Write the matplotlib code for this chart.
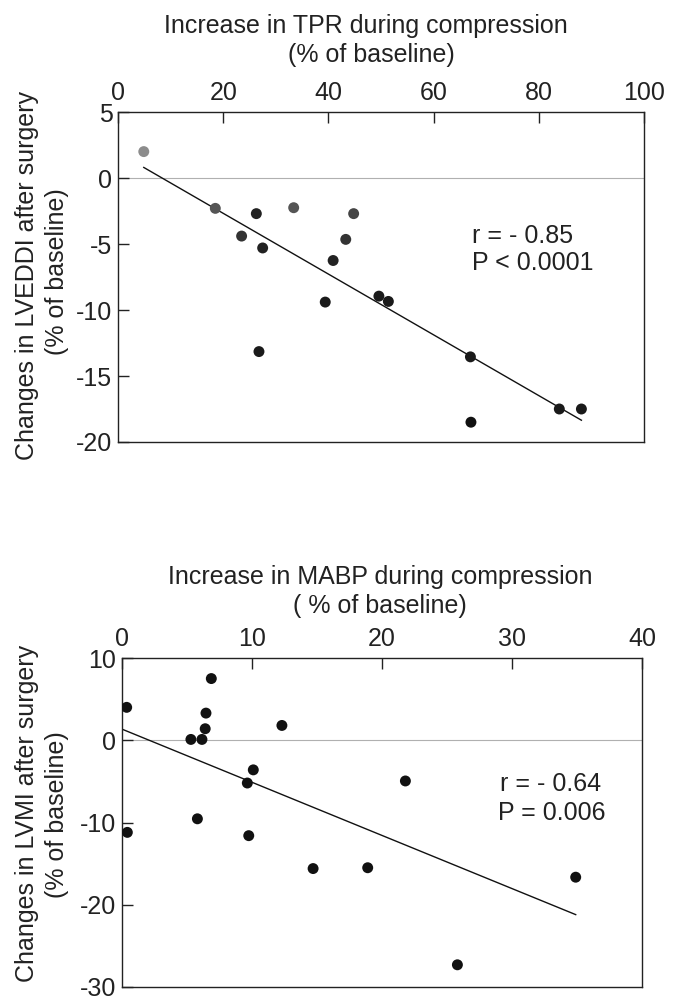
import matplotlib
matplotlib.use("Agg")
import matplotlib.pyplot as plt

plt.rcParams['font.family'] = ['Liberation Sans', 'DejaVu Sans']

# ---- Top panel data: TPR increase vs LVEDDI change ----
tpr_x = [4.9, 18.5, 26.3, 33.4, 44.8, 23.5, 27.5, 43.3, 40.9, 39.4, 49.6, 51.4,
         26.8, 67.0, 67.1, 83.9, 88.1]
lveddi_y = [2.0, -2.3, -2.7, -2.25, -2.7, -4.4, -5.3, -4.65, -6.25, -9.4, -8.95, -9.35,
            -13.15, -13.55, -18.5, -17.5, -17.5]
tpr_colors = ['#8c8c8c', '#555555', '#222222', '#555555', '#444444', '#333333', '#222222',
              '#333333', '#222222', '#1a1a1a', '#1a1a1a', '#1a1a1a',
              '#1a1a1a', '#1a1a1a', '#111111', '#1a1a1a', '#1a1a1a']
tpr_fit_x = [4.9, 88.1]
tpr_fit_y = [0.8, -18.35]
tpr_xticks = [0, 20, 40, 60, 80, 100]
lveddi_yticks = [5, 0, -5, -10, -15, -20]

# ---- Bottom panel data: MABP increase vs LVMI change ----
mabp_x = [0.36, 6.87, 6.46, 6.4, 5.3, 6.15, 12.3, 10.1, 9.64, 21.8, 5.8, 0.41, 9.75,
          14.7, 18.9, 34.9, 25.8]
lvmi_y = [4.0, 7.5, 3.3, 1.4, 0.1, 0.1, 1.8, -3.6, -5.2, -4.95, -9.55, -11.2, -11.6,
          -15.6, -15.5, -16.65, -27.3]
mabp_fit_x = [0.0, 34.9]
mabp_fit_y = [1.35, -21.2]
mabp_xticks = [0, 10, 20, 30, 40]
lvmi_yticks = [10, 0, -10, -20, -30]

W, H = 674, 1001
fig = plt.figure(figsize=(W / 100, H / 100), dpi=100)
fig.patch.set_facecolor('white')

FS = 18
TXT = '#222222'


def frac(l, t, r, b):
    return [l / W, 1 - b / H, (r - l) / W, (b - t) / H]


def ftext(x, y, s, **kw):
    kw.setdefault('fontsize', FS)
    kw.setdefault('color', TXT)
    fig.text(x / W, 1 - y / H, s, **kw)


def style(ax, xlim, ylim, xticks, yticks):
    ax.set_xlim(*xlim)
    ax.set_ylim(*ylim)
    ax.xaxis.tick_top()
    ax.set_xticks(xticks)
    ax.set_yticks(yticks)
    ax.set_xticklabels([str(v) for v in xticks])
    ax.set_yticklabels([str(v) for v in yticks])
    ax.tick_params(axis='x', direction='in', length=8, width=1, pad=5,
                   labelsize=FS, colors=TXT, top=True, bottom=False)
    ax.tick_params(axis='y', direction='in', length=8, width=1, pad=4,
                   labelsize=FS, colors=TXT, left=True, right=False)
    for s in ax.spines.values():
        s.set_linewidth(1.0)
        s.set_color('#222222')
    ax.axhline(0, color='#b0b0b0', lw=0.8, zorder=1)


# Top panel
ax1 = fig.add_axes(frac(118, 112, 644, 442))
style(ax1, (0, 100), (-20, 5), tpr_xticks, lveddi_yticks)
ax1.plot(tpr_fit_x, tpr_fit_y, color='#111111', lw=1.0, zorder=2)
ax1.scatter(tpr_x, lveddi_y, s=62, c=tpr_colors, edgecolors='none', zorder=3)
ftext(472, 243, 'r = - 0.85', ha='left', va='baseline')
ftext(472, 270, 'P < 0.0001', ha='left', va='baseline')

ftext(366, 33, 'Increase in TPR during compression', ha='center', va='baseline')
ftext(371, 62, '(% of baseline)', ha='center', va='baseline')
ftext(27, 275, 'Changes in LVEDDI after surgery', ha='center', va='center', rotation=90)
ftext(57, 272, '(% of baseline)', ha='center', va='center', rotation=90)

# Bottom panel
ax2 = fig.add_axes(frac(122, 658, 642, 987))
style(ax2, (0, 40), (-30, 10), mabp_xticks, lvmi_yticks)
ax2.plot(mabp_fit_x, mabp_fit_y, color='#111111', lw=1.0, zorder=2)
ax2.scatter(mabp_x, lvmi_y, s=62, c='#111111', edgecolors='none', zorder=3)
ftext(500, 791, 'r = - 0.64', ha='left', va='baseline')
ftext(498, 820, 'P = 0.006', ha='left', va='baseline')

ftext(380, 584, 'Increase in MABP during compression', ha='center', va='baseline')
ftext(380, 613, '( % of baseline)', ha='center', va='baseline')
ftext(27, 813, 'Changes in LVMI after surgery', ha='center', va='center', rotation=90)
ftext(57, 815, '(% of baseline)', ha='center', va='center', rotation=90)

fig.savefig('out.png', dpi=100, facecolor='white')
